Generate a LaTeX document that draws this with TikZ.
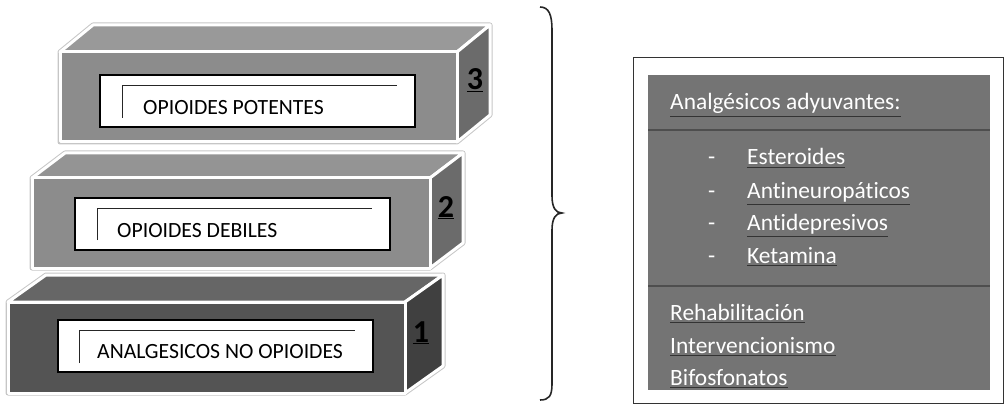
\documentclass[tikz,border=0pt]{standalone}
\usepackage{fontspec}
\setmainfont{Carlito}[Ligatures=NoCommon]
\usetikzlibrary{positioning}
\definecolor{panelgray}{HTML}{747474}
\definecolor{lineg}{HTML}{4E4E4E}
\newcommand{\myul}[1]{{\color{black!80}\underline{\rlap{\kern0.9pt\raisebox{-0.9pt}{\color{black!55}#1}}\color{white}#1}}}
\newcommand{\numul}[1]{\underline{#1}}
\newcommand{\stepblock}[9]{%
  % #1 x1, #2 y1, #3 x2, #4 y2, #5 dx, #6 dy, #7 front, #8 top, #9 side
  \draw[gray!45,line width=5pt,line join=round]
    (#1,#2) -- (#1+#5,#2+#6) -- (#3+#5,#2+#6) -- (#3+#5,#4+#6) -- (#3,#4) -- (#1,#4) -- cycle;
  \filldraw[fill=#8,facebox] (#1,#2) -- (#1+#5,#2+#6) -- (#3+#5,#2+#6) -- (#3,#2) -- cycle;
  \filldraw[fill=#9,facebox] (#3,#2) -- (#3+#5,#2+#6) -- (#3+#5,#4+#6) -- (#3,#4) -- cycle;
  \filldraw[fill=#7,facebox] (#1,#2) rectangle (#3,#4);
}
\tikzset{
  facebox/.style={draw=white,line width=3pt,line join=round},
  labelbox/.style={draw=black,fill=white,line width=1.2pt,minimum width=315pt,minimum height=52pt,inner sep=0pt},
  corner/.style={draw=black!85,line width=0.9pt},
  boxtext/.style={font=\fontsize{21.7}{24}\selectfont,anchor=base west,inner sep=0pt,text=black},
  stepnum/.style={inner sep=0pt,text=black,anchor=base,font=\fontsize{32}{32}\selectfont\bfseries},
  paneltext/.style={font=\fontsize{23.4}{26}\selectfont,anchor=base west,inner sep=0pt},
  dashtext/.style={font=\fontsize{23.4}{26}\selectfont,anchor=base west,inner sep=0pt,text=white},
}
\begin{document}
\begin{tikzpicture}[x=1pt,y=-1pt]
\useasboundingbox (0,0) rectangle (1006,406);
% step 3
\stepblock{60}{52}{457}{142}{33}{-27}{black!45}{black!40}{black!58}
\node[labelbox] (b3) at (257.5,101) {};
\coordinate (c3a) at (122,118);
\coordinate (c3b) at (122,85);
\coordinate (c3c) at (397,85);
\draw[corner] (c3a) -- (c3b) -- (c3c);
\node[boxtext] (t3) at (143,115) {OPIOIDES POTENTES};
\node[stepnum] (n3) at (475,90) {\numul{3}};
% step 2
\stepblock{32}{178}{430}{268}{33}{-25}{black!45}{black!42}{black!58}
\node[labelbox] (b2) at (232.5,224) {};
\coordinate (c2a) at (97,240);
\coordinate (c2b) at (97,208);
\coordinate (c2c) at (372,208);
\draw[corner] (c2a) -- (c2b) -- (c2c);
\node[boxtext] (t2) at (117,237) {OPIOIDES DEBILES};
\node[stepnum] (n2) at (446,217) {\numul{2}};
% step 1
\stepblock{8}{302}{405}{393}{38}{-27}{black!67}{black!60}{black!75}
\node[labelbox] (b1) at (215.5,346) {};
\coordinate (c1a) at (79,363);
\coordinate (c1b) at (79,330);
\coordinate (c1c) at (355,330);
\draw[corner] (c1a) -- (c1b) -- (c1c);
\node[boxtext] (t1) at (97,358) {ANALGESICOS NO OPIOIDES};
\node[stepnum] (n1) at (421,342) {\numul{1}};
% brace
\coordinate (brtop) at (540,7);
\coordinate (brtip) at (562,213);
\coordinate (brbot) at (540,400);
\draw[line width=1.6pt,black!85]
  (brtop) .. controls (549,7) and (552,15) .. (552,30) -- (552,196)
  .. controls (552,208) and (556,213) .. (brtip)
  .. controls (556,213) and (552,218) .. (552,230) -- (552,384)
  .. controls (552,396) and (549,400) .. (brbot);
% right panel
\node[draw=black!80,fill=white,line width=1pt,minimum width=370pt,minimum height=345pt,inner sep=0pt] (panel) at (818,230.5) {};
\node[fill=panelgray,minimum width=342pt,minimum height=315pt,inner sep=0pt] (inner) at (819,232.5) {};
\coordinate (d1l) at (648,130);
\coordinate (d1r) at (990,130);
\coordinate (d2l) at (648,286);
\coordinate (d2r) at (990,286);
\draw[lineg,line width=1.5pt] (d1l) -- (d1r);
\draw[lineg,line width=1.5pt] (d2l) -- (d2r);
\node[paneltext] (h) at (670,110) {\myul{Analgésicos adyuvantes:}};
\node[dashtext] (dA) at (708,165) {-};
\node[dashtext] (dB) at (708,198) {-};
\node[dashtext] (dC) at (708,230) {-};
\node[dashtext] (dD) at (708,263) {-};
\node[paneltext] (e1) at (747,165) {\myul{Esteroides}};
\node[paneltext] (e2) at (747,198) {\myul{Antineuropáticos}};
\node[paneltext] (e3) at (747,230) {\myul{Antidepresivos}};
\node[paneltext] (e4) at (747,263) {\myul{Ketamina}};
\node[paneltext] (r1) at (670,320) {\myul{Rehabilitación}};
\node[paneltext] (r2) at (670,353) {\myul{Intervencionismo}};
\node[paneltext] (r3) at (670,385) {\myul{Bifosfonatos}};
\end{tikzpicture}
\end{document}
